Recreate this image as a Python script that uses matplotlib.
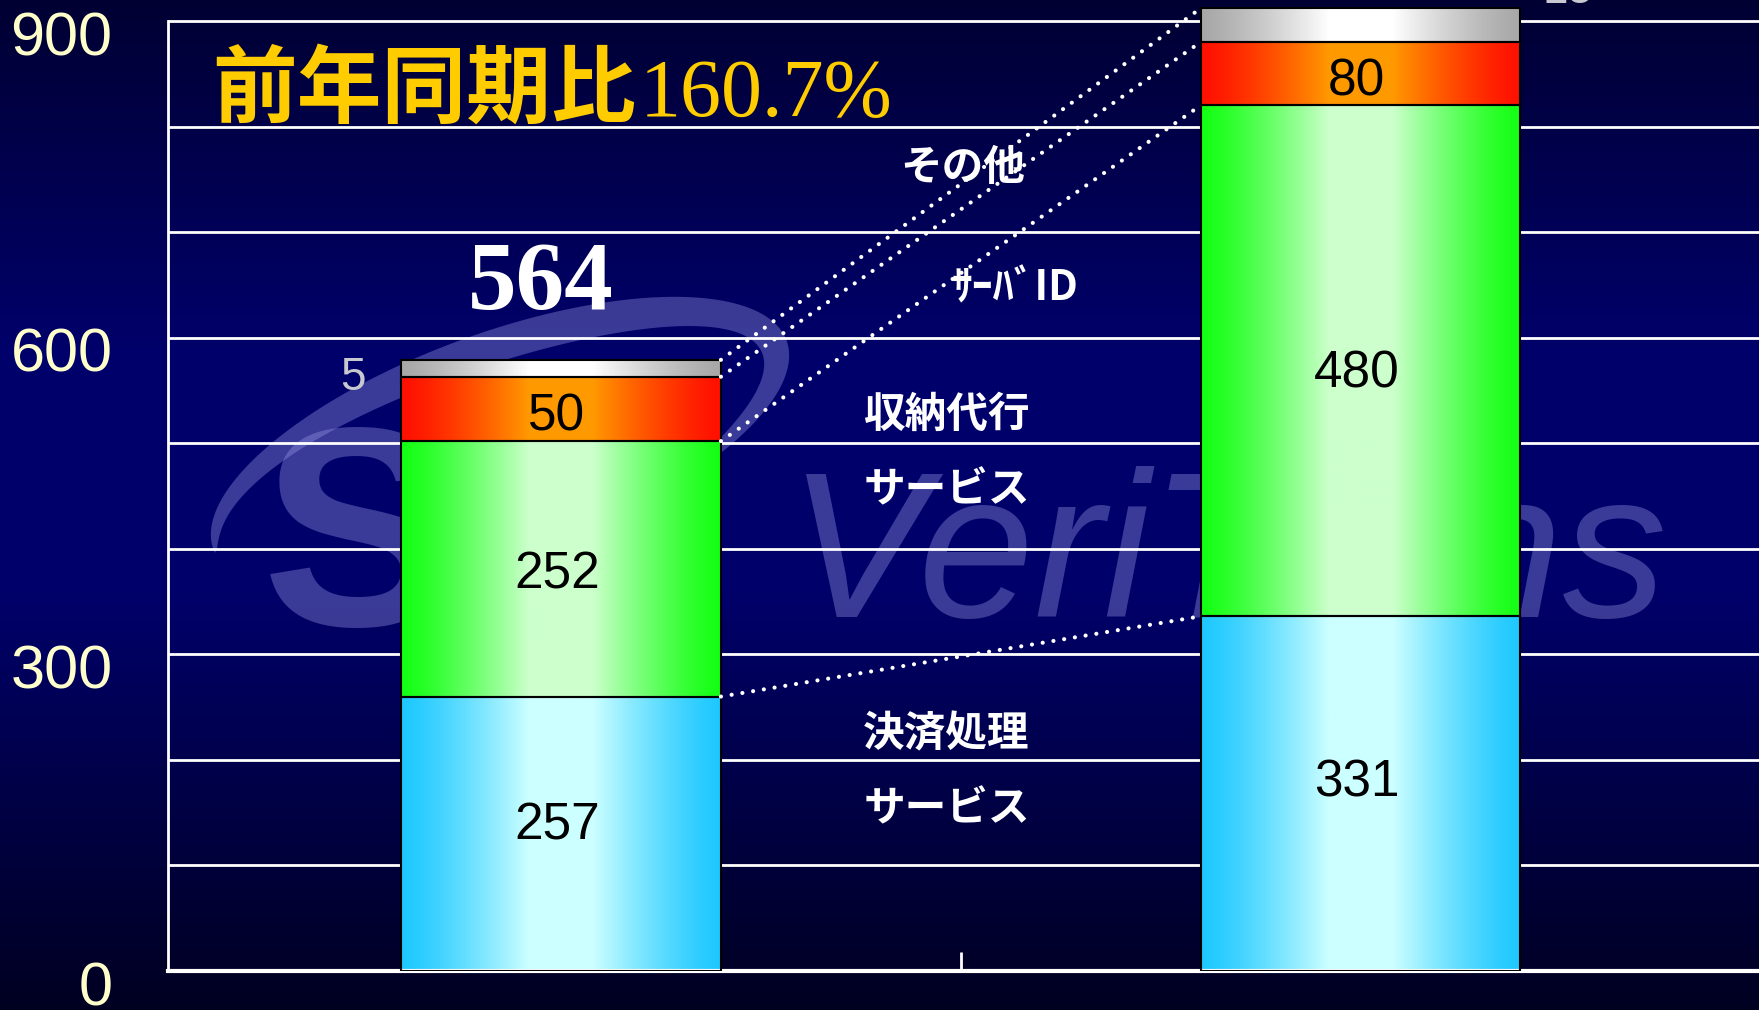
import numpy as np
import matplotlib
matplotlib.use("Agg")
import matplotlib.pyplot as plt
import matplotlib.transforms as mtransforms
from matplotlib.colors import to_rgb
from matplotlib.patches import Polygon

# ---- data (segment heights as drawn, labels as printed) ----
periods = ["前年同期", "当期"]
kessai = [260, 336]      # 決済処理サービス
shuno = [242, 484]       # 収納代行サービス
server_id = [61, 60]     # ｻｰﾊﾞID
sonota = [16, 32]        # その他
kessai_lbl = ["257", "331"]
shuno_lbl = ["252", "480"]
server_lbl = ["50", "80"]
sonota_lbl = ["5", "15"]
total_lbl = "564"
yoy_head = "前年同期比"
yoy_value = "160.7%"
yticks = [0, 300, 600, 900]

edge_cols = ["#1ec8ff", "#14ff14", "#ff1000", "#a8a8a8"]
center_cols = ["#ccffff", "#ccffcc", "#ff9900", "#ffffff"]
label_frac = [0.53, 0.475, 0.37, None]   # where the value sits inside each segment


def gradient(edge, center, n=256):
    s = np.linspace(0, 1, n)
    t = 1 - np.abs(2 * s - 1)
    m = np.clip(t / 0.8, 0, 1) ** 1.3
    e = np.array(to_rgb(edge))
    c = np.array(to_rgb(center))
    return (e[None, :] * (1 - m[:, None]) + c[None, :] * m[:, None])[None, :, :]


W, H = 1759, 1010
fig = plt.figure(figsize=(W / 100, H / 100), dpi=100)

# background + watermark
bg = fig.add_axes([0, 0, 1, 1], zorder=-5)
bg.set_xlim(0, W)
bg.set_ylim(H, 0)
bg.axis("off")
ys = np.linspace(0, 1, 400)
stops = [0, 0.35, 0.58, 1.0]
blue = np.interp(ys, stops, [0.20, 0.42, 0.42, 0.13])
grad_bg = np.zeros((400, 1, 3))
grad_bg[:, 0, 2] = blue
bg.imshow(grad_bg, extent=(0, W, H, 0), aspect="auto", interpolation="bilinear")

wm = (0.6, 0.6, 0.9, 0.38)
bg.text(262, 625, "S", fontsize=205, fontweight="bold", family="Liberation Sans",
        color=wm, va="baseline", ha="left")
bg.text(788, 617, "VeriTrans", fontsize=150, style="italic", family="Liberation Sans",
        color=wm, va="baseline", ha="left")
cx, cy, a, b, phi = 500, 445, 305, 112, np.deg2rad(20)
th = np.deg2rad(np.linspace(-60, 182, 220))
thick = 34 * np.sin(np.pi * (th - th[0]) / (th[-1] - th[0])) ** 0.6


def ell(ra, rb):
    X = ra * np.cos(th)
    Y = rb * np.sin(th)
    xr = X * np.cos(phi) - Y * np.sin(phi)
    yr = X * np.sin(phi) + Y * np.cos(phi)
    return cx + xr, cy - yr


ox, oy = ell(a, b)
ix, iy = ell(a - thick, b - thick)
pts = np.column_stack([np.concatenate([ox, ix[::-1]]), np.concatenate([oy, iy[::-1]])])
bg.add_patch(Polygon(pts, closed=True, facecolor=wm, edgecolor="none"))

# main chart
ax = fig.add_axes([168 / W, (H - 971) / H, 1 - 168 / W, 971 / H])
ax.set_facecolor("none")

x = np.arange(len(periods))
w = 0.4
series = [kessai, shuno, server_id, sonota]
labels = [kessai_lbl, shuno_lbl, server_lbl, None]
bottom = np.zeros(len(periods))
tops = []
for vals, ec, cc, lbl, fr in zip(series, edge_cols, center_cols, labels, label_frac):
    bars = ax.bar(x, vals, w, bottom=bottom, facecolor="none", edgecolor="black",
                  lw=1.5, zorder=3)
    img = gradient(ec, cc)
    for bar in bars:
        x0, y0 = bar.get_x(), bar.get_y()
        im = ax.imshow(img, extent=(x0, x0 + bar.get_width(), y0, y0 + bar.get_height()),
                       aspect="auto", interpolation="bilinear", zorder=2)
        im.set_clip_path(bar)
    if lbl is not None:
        for xi, v, bt, t in zip(x, vals, bottom, lbl):
            ax.text(xi - 0.005, bt + v * fr, t, ha="center", va="center", fontsize=37,
                    family="Liberation Sans", color="black", zorder=5)
    bottom = bottom + np.array(vals)
    tops.append(bottom.copy())

# dotted connectors between the two bars
for t in tops:
    ax.plot([x[0] + w / 2, x[1] - w / 2], [t[0], t[1]], color="white", lw=3,
            ls=(0, (0.01, 2.6)), dash_capstyle="round", zorder=4)

# small "その他" values beside the bars
ax.text(x[0] - 0.26, 562, sonota_lbl[0], ha="center", va="center", fontsize=33,
        family="Liberation Sans", color="#c8c8d0")
ax.text(x[1] + 0.26, 928, sonota_lbl[1], ha="center", va="center", fontsize=33,
        family="Liberation Sans", color="#c8c8d0")

# total
ax.text(x[0] - 0.025, 627, total_lbl, ha="center", va="baseline", fontsize=70,
        fontweight="bold", family="Liberation Serif", color="white")

# title
ax.text(-0.4365, 810, yoy_head, ha="left", va="baseline", fontsize=61,
        fontweight="bold", family="Noto Sans CJK JP", color="#ffcc00")
ax.text(0.098, 810, yoy_value, ha="left", va="baseline", fontsize=59,
        family="Liberation Serif", color="#ffcc00")

# category labels between the bars
cat_font = dict(family="Noto Sans CJK JP", fontweight="bold", fontsize=30,
                color="white", ha="center", va="center")
ax.text(0.503, 761, "その他", **cat_font)
ax.text(0.568, 647, "ｻｰﾊﾞID", **cat_font)
ax.text(0.482, 527, "収納代行", **cat_font)
ax.text(0.482, 455, "サービス", **cat_font)
ax.text(0.482, 224, "決済処理", **cat_font)
ax.text(0.482, 153, "サービス", **cat_font)

# axes styling
ax.set_xlim(-0.4916, 1.4985)
ax.set_ylim(0, 919.9)
ax.set_yticks(yticks)
ax.set_yticks(np.arange(100, 1000, 100), minor=True)
ax.yaxis.grid(True, which="both", color="white", lw=2)
ax.set_axisbelow(True)
ax.tick_params(axis="y", which="both", length=0, pad=40, labelsize=44,
               labelcolor="#ffffcc")
for lab in ax.get_yticklabels():
    lab.set_family("Liberation Sans")
ax.set_xticks([0.5])
ax.set_xticklabels([""])
ax.tick_params(axis="x", direction="in", length=14, width=2, color="white")
for s in ["top", "right"]:
    ax.spines[s].set_visible(False)
ax.spines["left"].set_color("white")
ax.spines["left"].set_linewidth(2)
ax.spines["left"].set_bounds(0, 900)
ax.spines["bottom"].set_color("white")
ax.spines["bottom"].set_linewidth(3)

offset = mtransforms.ScaledTranslation(0, -0.12, fig.dpi_scale_trans)
for lab in ax.get_yticklabels():
    lab.set_transform(lab.get_transform() + offset)

fig.savefig("out.png", dpi=100)
